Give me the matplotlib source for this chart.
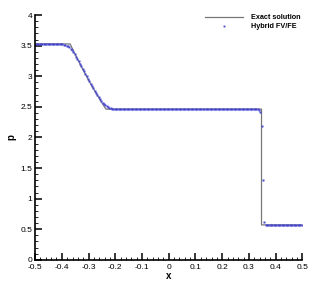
import numpy as np
import matplotlib
matplotlib.use("Agg")
import matplotlib.pyplot as plt
from matplotlib.ticker import MultipleLocator

# exact Riemann solution (pressure)
x_exact = [-0.5, -0.369, -0.3475, -0.3375, -0.3225, -0.3075, -0.2925, -0.2775,
           -0.2625, -0.2475, -0.235, 0.347, 0.347, 0.5]
p_exact = [3.528, 3.528, 3.334, 3.248, 3.121, 2.999, 2.880, 2.766,
           2.656, 2.549, 2.463, 2.463, 0.571, 0.571]

# numerical solution, 200 cells
x_num = np.linspace(-0.4975, 0.4975, 200)
p_num = [
    3.528, 3.528, 3.528, 3.528, 3.528, 3.528, 3.528, 3.528, 3.528, 3.528,
    3.528, 3.528, 3.528, 3.528, 3.528, 3.528, 3.527, 3.527, 3.526, 3.525,
    3.522, 3.518, 3.512, 3.502, 3.489, 3.472, 3.449, 3.424, 3.393, 3.359,
    3.321, 3.283, 3.244, 3.203, 3.162, 3.121, 3.080, 3.039, 2.999, 2.959,
    2.919, 2.880, 2.842, 2.804, 2.767, 2.731, 2.695, 2.661, 2.629, 2.598,
    2.571, 2.547, 2.527, 2.510, 2.496, 2.485, 2.477, 2.472, 2.468, 2.466,
    2.465, 2.464, 2.463, 2.463, 2.463, 2.463, 2.463, 2.463, 2.463, 2.463,
    2.463, 2.463, 2.463, 2.463, 2.463, 2.463, 2.463, 2.463, 2.463, 2.463,
    2.463, 2.463, 2.463, 2.463, 2.463, 2.463, 2.463, 2.463, 2.463, 2.463,
    2.463, 2.463, 2.463, 2.463, 2.463, 2.463, 2.463, 2.463, 2.463, 2.463,
    2.463, 2.463, 2.463, 2.463, 2.463, 2.463, 2.463, 2.463, 2.463, 2.463,
    2.463, 2.463, 2.463, 2.463, 2.463, 2.463, 2.463, 2.463, 2.463, 2.463,
    2.463, 2.463, 2.463, 2.463, 2.463, 2.463, 2.463, 2.463, 2.463, 2.463,
    2.463, 2.463, 2.463, 2.463, 2.463, 2.463, 2.463, 2.463, 2.463, 2.463,
    2.463, 2.463, 2.463, 2.463, 2.463, 2.463, 2.463, 2.463, 2.463, 2.463,
    2.463, 2.463, 2.463, 2.463, 2.463, 2.463, 2.463, 2.463, 2.463, 2.463,
    2.463, 2.463, 2.463, 2.463, 2.463, 2.463, 2.463, 2.455, 2.410, 2.180,
    1.300, 0.620, 0.575, 0.571, 0.571, 0.571, 0.571, 0.571, 0.571, 0.571,
    0.571, 0.571, 0.571, 0.571, 0.571, 0.571, 0.571, 0.571, 0.571, 0.571,
    0.571, 0.571, 0.571, 0.571, 0.571, 0.571, 0.571, 0.571, 0.571, 0.571,
]

x_ticks = np.arange(-0.5, 0.51, 0.1)
x_ticklabels = ["-0.5", "-0.4", "-0.3", "-0.2", "-0.1", "0",
                "0.1", "0.2", "0.3", "0.4", "0.5"]
y_ticks = np.arange(0, 4.01, 0.5)
y_ticklabels = ["0", "0.5", "1", "1.5", "2", "2.5", "3", "3.5", "4"]

plt.rcParams['font.family'] = ['Liberation Sans', 'DejaVu Sans']

fig = plt.figure(figsize=(3.19, 2.84), dpi=100)
ax = fig.add_axes([0.110, 0.085, 0.838, 0.862])

ax.plot(x_exact, p_exact, color="#777777", lw=0.9, label="Exact solution")
ax.plot(x_num, p_num, ls="none", marker="s", ms=1.7, mec="none",
        color="#4848d0", label="Hybrid FV/FE")

ax.set_xlim(-0.5, 0.5)
ax.set_ylim(0, 4)
ax.xaxis.set_minor_locator(MultipleLocator(0.02))
ax.yaxis.set_minor_locator(MultipleLocator(0.1))
ax.set_xticks(x_ticks)
ax.set_xticklabels(x_ticklabels)
ax.set_yticks(y_ticks)
ax.set_yticklabels(y_ticklabels)

for s in ["top", "right"]:
    ax.spines[s].set_visible(False)
for s in ["left", "bottom"]:
    ax.spines[s].set_linewidth(1.2)

ax.tick_params(which="major", direction="in", length=5, width=1.1,
               labelsize=6, pad=2)
ax.tick_params(axis="x", which="major", pad=3)
ax.tick_params(which="minor", direction="in", length=2.5, width=0.6)

ax.set_xlabel("x", fontsize=7, fontweight="bold", labelpad=0)
ax.set_ylabel("p", fontsize=7, fontweight="bold", labelpad=3)

leg = ax.legend(loc="upper left", bbox_to_anchor=(205 / 319, 1 - 14 / 284),
                bbox_transform=fig.transFigure, frameon=False,
                fontsize=5.2, handlelength=5.3, handletextpad=1.1,
                labelspacing=0.3, borderpad=0, borderaxespad=0,
                markerscale=0.8)
for t in leg.get_texts():
    t.set_fontweight("bold")

fig.savefig("out.png", dpi=100)
